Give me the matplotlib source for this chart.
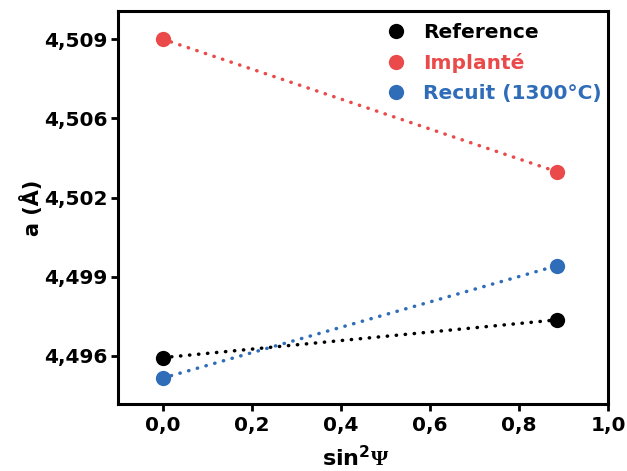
import matplotlib
matplotlib.use("Agg")
import matplotlib.pyplot as plt

plt.rcParams['font.family'] = ['DejaVu Sans']
plt.rcParams['font.weight'] = 'bold'
plt.rcParams['mathtext.fontset'] = 'custom'
plt.rcParams['mathtext.rm'] = 'Liberation Serif:bold'
plt.rcParams['mathtext.bf'] = 'DejaVu Sans:bold'

x = [0.0, 0.885]
reference = [4.49583, 4.49738]
implante = [4.5089, 4.50346]
recuit = [4.49499, 4.49960]

series_names = ["Reference", "Implanté", "Recuit (1300°C)"]
series_vals = [reference, implante, recuit]
colors = ["#000000", "#EA4A4A", "#2F6DB8"]

ytick_vals = [4.4959, 4.49915, 4.5024, 4.50565, 4.5089]
ytick_labels = ["4,496", "4,499", "4,502", "4,506", "4,509"]
xtick_vals = [0.0, 0.2, 0.4, 0.6, 0.8, 1.0]
xtick_labels = ["0,0", "0,2", "0,4", "0,6", "0,8", "1,0"]

fig = plt.figure(figsize=(6.27, 4.71), dpi=100)
ax = fig.add_axes([0.1882, 0.1423, 0.9697 - 0.1882, 0.9766 - 0.1423])

for name, vals, c in zip(series_names, series_vals, colors):
    ax.plot(x, vals, linestyle=(0, (0.1, 2.5)), dash_capstyle='round', color=c, lw=2.5, zorder=2)
    ax.plot(x, vals, 'o', color=c, markersize=11, markeredgewidth=0, label=name, zorder=3)

ax.set_xlim(-0.1, 1.0)
ax.set_ylim(4.49393, 4.51005)
ax.set_xticks(xtick_vals)
ax.set_xticklabels(xtick_labels)
ax.set_yticks(ytick_vals)
ax.set_yticklabels(ytick_labels)
ax.tick_params(axis='both', direction='out', length=5, width=2, labelsize=14.5)
ax.tick_params(axis='y', pad=2.5)
ax.tick_params(axis='x', pad=4)
for lab in ax.get_xticklabels() + ax.get_yticklabels():
    lab.set_fontweight('bold')
for s in ax.spines.values():
    s.set_linewidth(2.2)

ax.set_xlabel("sin$^\\mathbf{2}\\mathrm{\\Psi}$", fontsize=16, fontweight='bold')
ax.xaxis.set_label_coords(0.486, -0.104)
ax.set_ylabel("a (Å)", fontsize=15, fontweight='bold', labelpad=1)

leg = ax.legend(loc='upper right', bbox_to_anchor=(1.0, 0.985), frameon=False, fontsize=14.5,
                handletextpad=0.85, labelspacing=0.55, borderaxespad=0.0, borderpad=0.3,
                handlelength=1.0)
for t, c in zip(leg.get_texts(), colors):
    t.set_color(c)
    t.set_fontweight('bold')

fig.savefig("out.png", dpi=100)
